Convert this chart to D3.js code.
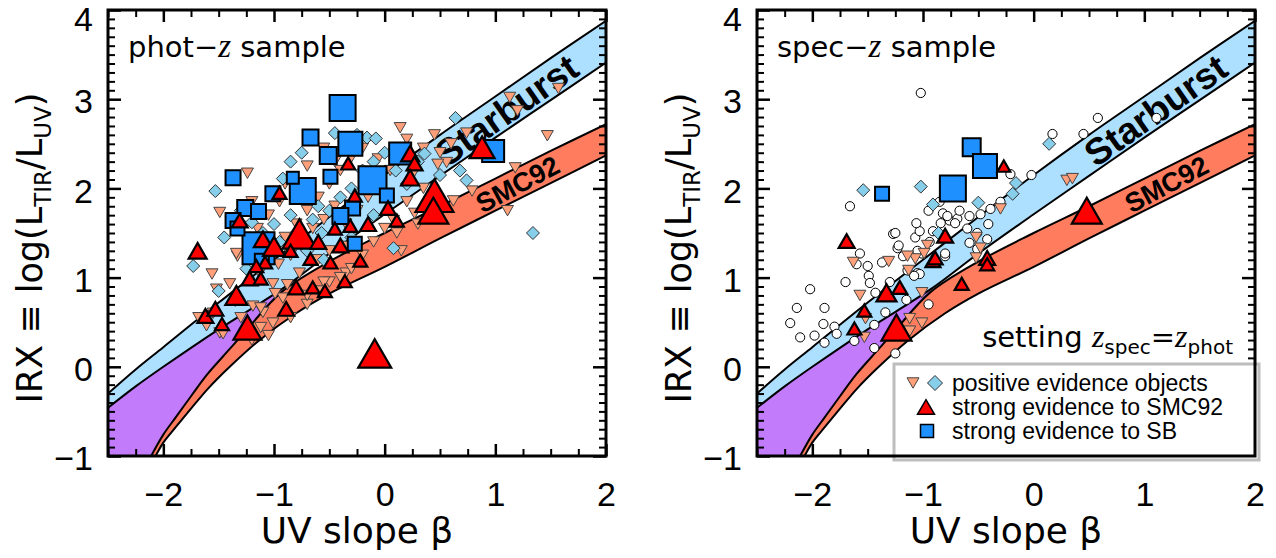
<!DOCTYPE html>
<html>
<head>
<meta charset="utf-8">
<script src="https://cdn.jsdelivr.net/npm/d3@7"></script>
<style>
  body { margin: 0; background: #fff; }
  svg text { font-family: "Liberation Sans", Arial, Helvetica, sans-serif; }
</style>
</head>
<body>
<script>
'use strict';

// axis ticks
const xTicks = [-2, -1, 0, 1, 2];
const yTicks = [-1, 0, 1, 2, 3, 4];

// model bands, [beta, IRX]
const sbUpper = [[-2.5, -0.30], [-2.25, -0.03], [-2.0, 0.22], [-1.5, 0.72], [-1.0, 1.20], [-0.5, 1.68], [0, 2.15], [0.5, 2.60], [1, 3.03], [1.5, 3.46], [2, 3.88]];
const sbLower = [[-2.5, -0.46], [-2.25, -0.22], [-2.0, 0.0], [-1.5, 0.42], [-0.93, 0.87], [-0.5, 1.27], [0, 1.71], [0.5, 2.14], [1, 2.57], [1.5, 2.99], [2, 3.41]];
const smcUpper = [[-2.11, -1.0], [-2.0, -0.76], [-1.89, -0.57], [-1.75, -0.33], [-1.6, -0.08], [-1.4, 0.2], [-1.23, 0.44], [-0.93, 0.84], [-0.5, 1.18], [0, 1.5], [0.5, 1.8], [1, 2.11], [1.5, 2.42], [2, 2.72]];
const smcLower = [[-2.07, -1.0], [-2.0, -0.85], [-1.89, -0.68], [-1.75, -0.47], [-1.6, -0.25], [-1.4, 0.0], [-1.14, 0.29], [-0.8, 0.6], [-0.5, 0.82], [0, 1.12], [0.5, 1.44], [1, 1.75], [1.5, 2.06], [2, 2.37]];

// phot-z sample
const photPosTri = [[1.57, 3.12], [1.47, 2.59], [1.18, 2.23], [1.11, 1.75], [1.13, 3.02], [1.2, 2.87], [0.14, 2.68], [0.62, 1.86], [0.79, 1.97], [-0.06, 2.33], [0.5, 2.4], [0.56, 2.29], [0.48, 2.27], [0.74, 2.62], [0.27, 1.72], [0.08, 1.64], [0.11, 1.5], [0.03, 1.94],
  [-1.24, 2.17], [-1.49, 1.73], [-1.56, 1.04], [-1.33, 1.24], [-1.40, 0.93], [-1.61, 0.46], [-1.49, 0.38], [-1.19, 0.68], [-1.10, 0.61], [-1.01, 0.49], [-0.92, 0.77], [-1.01, 0.93], [-1.13, 1.05], [-1.34, 1.27], [-1.52, 0.87], [-1.12, 0.66], [-1.12, 0.44], [-1.46, 0.37], [-0.96, 1.15], [-0.77, 1.05], [-0.99, 0.82], [-0.88, 0.92],
  [-1.68, 0.55], [-1.55, 0.6], [-1.3, 0.55], [-1.2, 0.3], [-1.05, 0.35], [-0.85, 0.55], [-0.7, 0.7], [-0.6, 0.85], [-0.5, 0.95], [-0.35, 1.05], [-0.2, 1.25], [-0.1, 1.4], [0.0, 1.55], [0.2, 1.85], [0.35, 2.0],
  [-1.0, 1.3], [-0.9, 1.45], [-0.8, 1.6], [-0.7, 1.75], [-0.6, 1.9], [-0.5, 2.05], [-0.4, 2.2], [-0.3, 2.35], [-0.2, 2.45], [-0.85, 1.25], [-0.75, 1.35], [-0.65, 1.55], [-0.55, 1.65], [-0.45, 1.8], [-0.35, 1.6], [-0.25, 1.75], [-0.15, 1.9], [-0.05, 2.05], [0.05, 2.2], [-1.15, 1.55], [-1.05, 1.7], [-0.95, 1.85], [-0.9, 2.05], [-1.2, 1.85], [-0.7, 2.25], [-0.55, 2.45], [-0.45, 2.3], [-0.35, 1.35], [-0.6, 1.2], [-0.5, 1.3], [0.25, 2.15], [0.3, 1.6], [0.4, 1.75], [0.15, 1.3],
  [-0.4, 1.0], [-0.3, 1.1], [-0.7, 0.8], [-0.55, 0.95], [0.35, 2.45], [0.6, 2.5], [0.45, 2.6], [0.2, 2.55]];
const photPosDia = [[-1.53, 1.97], [-1.73, 1.13], [-0.92, 2.11], [-0.75, 2.40], [0.64, 2.79], [-0.45, 2.62], [-0.16, 2.57], [-0.08, 2.56], [1.34, 1.50], [0.08, 1.33], [0.74, 2.09], [0.68, 2.20], [0.36, 2.39], [-0.57, 1.50],
  [-1.3, 1.75], [-1.2, 1.62], [-1.1, 1.5], [-1.0, 1.6], [-0.95, 1.4], [-0.85, 1.7], [-0.8, 1.5], [-0.65, 1.65], [-0.6, 1.8], [-0.5, 1.75], [-0.4, 1.9], [-0.3, 2.0], [-0.2, 2.2], [-0.1, 2.3], [0.0, 2.4], [0.1, 2.2], [0.2, 2.05], [-0.7, 1.3], [-0.55, 1.2], [-1.15, 1.25], [-1.25, 1.1], [-0.3, 1.45], [-0.1, 1.7], [0.3, 2.3], [0.5, 2.15], [-0.85, 2.3], [-0.25, 2.6], [-1.45, 1.45], [-1.5, 0.85], [-1.35, 0.75]];
const photSmcTri = [[0.88, 2.46, 25], [0.23, 2.39, 18], [0.27, 2.28, 16], [0.23, 2.12, 18], [0.45, 1.92, 38], [0.44, 1.75, 30], [0.03, 1.78, 16], [0.11, 1.64, 14], [-0.33, 2.28, 14], [-0.09, 0.15, 33], [-1.69, 1.30, 18], [-0.77, 1.49, 34], [-1.24, 0.44, 28], [-1.62, 0.57, 16], [-1.53, 0.65, 16], [-1.47, 0.48, 14], [-1.34, 0.80, 22], [-1.10, 1.43, 18], [-0.95, 1.95, 14], [-1.31, 1.64, 16], [-1.08, 1.17, 14], [-1.16, 1.13, 14], [-1.22, 0.99, 16], [-1.12, 0.99, 14], [-0.89, 0.65, 16], [-0.80, 0.89, 16], [-0.67, 1.21, 14], [-0.65, 0.89, 14], [-0.49, 1.17, 14], [-0.40, 1.36, 16], [-0.31, 1.58, 14], [-0.36, 0.96, 14], [-0.22, 1.19, 14], [-0.54, 0.85, 14], [-0.27, 1.92, 14], [-0.15, 1.6, 16], [-0.6, 1.4, 16], [-0.85, 1.3, 14], [-1.0, 1.35, 22], [-0.45, 1.55, 14]];
const photSbSq = [[-0.38, 2.90, 26], [-0.31, 2.50, 24], [-0.11, 2.09, 28], [0.14, 2.39, 22], [0.98, 2.42, 22], [-0.67, 2.57, 16], [-0.51, 2.37, 17], [-1.37, 2.12, 15], [-1.26, 1.78, 16], [-1.14, 1.74, 15], [-1.01, 1.94, 15], [-0.74, 1.97, 26], [-1.37, 1.64, 15], [-1.14, 1.33, 32], [-0.83, 2.12, 12], [-0.27, 1.38, 14], [-0.29, 1.78, 15], [-0.40, 1.69, 16], [-1.11, 1.19, 14], [-1.33, 1.55, 14], [-0.49, 2.13, 14], [0.02, 1.92, 14]];

// spec-z sample
const specCircles = [[-1.02, 3.07], [-1.66, 1.80], [-1.27, 1.49], [-1.07, 1.45], [-1.03, 1.52], [-1.06, 1.61], [-1.57, 1.27], [-1.50, 1.13], [-1.37, 1.17], [-1.23, 1.33], [-1.18, 1.24], [-0.82, 1.72], [-0.76, 1.64], [-0.69, 1.66], [-0.84, 1.61], [-0.91, 1.52], [-0.94, 1.40], [-1.01, 1.27], [-1.14, 1.08], [-1.05, 1.05],
  [0.58, 2.79], [0.45, 2.61], [0.17, 2.61], [-0.02, 2.15], [1.11, 2.79], [-0.21, 2.16], [-0.39, 1.77], [-0.48, 1.71], [-0.67, 1.75], [-0.78, 1.69], [-0.71, 1.61], [-0.58, 1.69], [-0.41, 1.60], [-0.51, 1.50], [-0.42, 1.43], [-0.51, 1.32], [-0.80, 1.24],
  [-2.02, 0.87], [-1.89, 0.66], [-1.90, 0.48], [-1.98, 0.35], [-1.80, 0.45], [-1.78, 0.37], [-1.89, 0.27], [-1.62, 0.29], [-1.44, 0.21], [-1.49, 1.02], [-1.60, 1.15], [-1.48, 0.94], [-1.43, 0.83], [-1.34, 0.61], [-1.44, 0.47], [-1.22, 1.36], [-1.25, 1.50], [-1.05, 1.30], [-1.03, 1.04], [-1.08, 1.02], [-0.80, 1.27], [-0.58, 1.39],
  [-2.14, 0.66], [-2.20, 0.49], [-2.11, 0.33], [-1.70, 0.95], [-1.30, 0.95], [-1.15, 0.75], [-0.95, 0.70], [-1.25, 0.15], [-0.60, 1.55], [-0.30, 1.85], [-0.85, 1.85], [-0.95, 1.75]];
const specPosTri = [[-1.63, 1.17], [-1.31, 1.18], [-1.07, 1.21], [-0.96, 1.36], [0.30, 2.09], [0.35, 2.11], [-0.30, 1.77], [-0.52, 1.45], [-0.52, 1.22], [-1.14, 1.24], [-0.99, 1.27], [-1.57, 0.80], [-1.52, 0.54], [-1.12, 0.54], [-1.01, 0.49], [-1.12, 0.40], [-1.53, 0.33], [-1.13, 1.08], [-1.01, 0.83], [-0.48, 1.33]];
const specPosDia = [[-1.54, 1.98], [-1.02, 2.02], [-0.91, 1.82], [0.14, 2.50], [-0.16, 2.06], [-0.19, 1.94], [-0.50, 1.84], [-0.86, 1.50]];
const specSmcTri = [[-1.69, 1.41, 16], [-0.80, 1.47, 16], [-0.91, 1.19, 15], [-0.27, 2.25, 13], [0.48, 1.75, 30], [-1.33, 0.83, 20], [-1.21, 0.89, 15], [-1.53, 0.63, 14], [-1.62, 0.43, 14], [-1.24, 0.44, 30], [-0.89, 1.22, 15], [-0.65, 0.93, 14], [-0.42, 1.22, 16], [-0.42, 1.15, 14]];
const specSbSq = [[-1.37, 1.94, 14], [-0.73, 2.0, 26], [-0.56, 2.46, 18], [-0.44, 2.25, 24]];

const legendLabels = ["positive evidence objects", "strong evidence to SMC92", "strong evidence to SB"];

const colors = {
  sb: "#ADDFFF", smc: "#FF7D5E", both: "#C27BFB",
  posTri: "#FFA07A", posDia: "#87CEEB", smcTri: "#FF0000", sbSq: "#1E90FF"
};

const wideFont = "'DejaVu Sans', Verdana, sans-serif";
const zFont = "'Liberation Serif', 'DejaVu Serif', serif";

(function () {
  const svg = d3.select("body").append("svg")
    .attr("width", 1276)
    .attr("height", 558);

  const panels = [
    { left: 108, name: "phot", clip: "clipA", posTri: photPosTri, posDia: photPosDia, smcTri: photSmcTri, sbSq: photSbSq, circles: [] },
    { left: 757, name: "spec", clip: "clipB", posTri: specPosTri, posDia: specPosDia, smcTri: specSmcTri, sbSq: specSbSq, circles: specCircles }
  ];

  panels.forEach(drawPanel);
  drawLegend();

  // marker outline shapes centred on 0,0
  function markerPath(type, s) {
    const h = s * 0.433;
    if (type === "tri") return `M${-s / 2},${h}L${s / 2},${h}L0,${-h}Z`;
    if (type === "dtri") return `M${-s / 2},${-h}L${s / 2},${-h}L0,${h}Z`;
    if (type === "dia") return `M0,${-s / 2}L${s / 2},0L0,${s / 2}L${-s / 2},0Z`;
    return `M${-s / 2},${-s / 2}H${s / 2}V${s / 2}H${-s / 2}Z`;
  }

  function drawPanel(p) {
    const x = d3.scaleLinear().domain([-2.5, 2]).range([p.left, p.left + 498]);
    const y = d3.scaleLinear().domain([-1, 4]).range([456, 10]);

    svg.append("clipPath").attr("id", p.clip)
      .append("rect")
      .attr("x", x(-2.5)).attr("y", y(4))
      .attr("width", x(2) - x(-2.5)).attr("height", y(-1) - y(4));

    const plot = svg.append("g").attr("clip-path", `url(#${p.clip})`);

    const line = d3.line()
      .x(d => x(d[0]))
      .y(d => y(d[1]))
      .curve(d3.curveCatmullRom.alpha(0.5));

    const band = (upper, lower) =>
      line(upper) + line(lower.slice().reverse()).replace(/^M/, "L") + "Z";

    // purple region between starburst lower edge and SMC upper edge
    const cut = -0.93;
    const sbL = sbLower.filter(d => d[0] <= cut);
    const smU = smcUpper.filter(d => d[0] <= cut);
    plot.append("path")
      .attr("d", line(sbL) + line(smU.slice().reverse()).replace(/^M/, "L") +
        `L${x(-2.5)},${y(-1)}Z`)
      .attr("fill", colors.both);

    plot.append("path").attr("d", band(sbUpper, sbLower)).attr("fill", colors.sb);
    plot.append("path").attr("d", band(smcUpper, smcLower)).attr("fill", colors.smc);

    [sbUpper, sbLower, smcUpper, smcLower].forEach(c => {
      plot.append("path")
        .attr("d", line(c))
        .attr("fill", "none")
        .attr("stroke", "#000")
        .attr("stroke-width", 2);
    });

    // band names
    plot.append("text")
      .attr("transform", `translate(${x(1.1)},${y(2.88)}) rotate(-35)`)
      .attr("text-anchor", "middle")
      .attr("dy", "0.36em")
      .style("font-size", "37px")
      .style("font-weight", "bold")
      .text("Starburst");
    plot.append("text")
      .attr("transform", `translate(${x(1.2)},${y(2.05)}) rotate(-28)`)
      .attr("text-anchor", "middle")
      .attr("dy", "0.36em")
      .style("font-size", "27px")
      .style("font-weight", "bold")
      .text("SMC92");

    // data points
    plot.selectAll(".circ").data(p.circles).enter()
      .append("circle")
      .attr("cx", d => x(d[0])).attr("cy", d => y(d[1]))
      .attr("r", 4.6)
      .attr("fill", "#fff").attr("stroke", "#000").attr("stroke-width", 1);

    plot.selectAll(".ptri").data(p.posTri).enter()
      .append("path")
      .attr("transform", d => `translate(${x(d[0])},${y(d[1])})`)
      .attr("d", markerPath("dtri", 12))
      .attr("fill", colors.posTri).attr("stroke", "#444").attr("stroke-width", 1);

    plot.selectAll(".pdia").data(p.posDia).enter()
      .append("path")
      .attr("transform", d => `translate(${x(d[0])},${y(d[1])})`)
      .attr("d", markerPath("dia", 13))
      .attr("fill", colors.posDia).attr("stroke", "#333").attr("stroke-width", 1);

    plot.selectAll(".sq").data(p.sbSq).enter()
      .append("path")
      .attr("transform", d => `translate(${x(d[0])},${y(d[1])})`)
      .attr("d", d => markerPath("sq", d[2]))
      .attr("fill", colors.sbSq).attr("stroke", "#000").attr("stroke-width", 2);

    plot.selectAll(".stri").data(p.smcTri).enter()
      .append("path")
      .attr("transform", d => `translate(${x(d[0])},${y(d[1])})`)
      .attr("d", d => markerPath("tri", d[2]))
      .attr("fill", colors.smcTri).attr("stroke", "#000").attr("stroke-width", 2.2);

    // axes with inward ticks on all four sides
    const xMinor = d3.range(-2.5, 2.001, 0.25).filter(v => Math.abs(v - Math.round(v)) > 1e-6);
    const yMinor = d3.range(-1, 4.001, 0.1).filter(v => Math.abs(v - Math.round(v)) > 1e-6);

    const addAxis = (axis, tr, w, labels) => {
      const g = svg.append("g").attr("transform", tr).call(axis);
      g.select(".domain").remove();
      g.selectAll(".tick line").attr("stroke-width", w);
      g.attr("font-size", 34).attr("font-family", null);
      if (!labels) g.selectAll("text").remove();
      return g;
    };

    addAxis(d3.axisBottom(x).tickValues(xTicks).tickSize(-12).tickPadding(26).tickFormat(d3.format("d")), `translate(0,${y(-1)})`, 2.5, true);
    addAxis(d3.axisBottom(x).tickValues(xMinor).tickSize(-7), `translate(0,${y(-1)})`, 2, false);
    addAxis(d3.axisTop(x).tickValues(xTicks).tickSize(-12), `translate(0,${y(4)})`, 2.5, false);
    addAxis(d3.axisTop(x).tickValues(xMinor).tickSize(-7), `translate(0,${y(4)})`, 2, false);
    addAxis(d3.axisLeft(y).tickValues(yTicks).tickSize(-13).tickPadding(15).tickFormat(d3.format("d")), `translate(${x(-2.5)},0)`, 2.5, true)
      .selectAll("text").attr("dy", d => d === 4 ? "0.6em" : "0.4em");
    addAxis(d3.axisLeft(y).tickValues(yMinor).tickSize(-7), `translate(${x(-2.5)},0)`, 2, false);
    addAxis(d3.axisRight(y).tickValues(yTicks).tickSize(-13), `translate(${x(2)},0)`, 2.5, false);
    addAxis(d3.axisRight(y).tickValues(yMinor).tickSize(-7), `translate(${x(2)},0)`, 2, false);

    // legend box sits under the frame in the spec panel
    if (p.name === "spec") {
      svg.append("rect")
        .attr("x", 894).attr("y", 364)
        .attr("width", x(2) - 894 + 4).attr("height", y(-1) - 364 + 4)
        .attr("fill", "#fff").attr("stroke", "#BDBDBD").attr("stroke-width", 3);
    }

    svg.append("rect")
      .attr("x", x(-2.5)).attr("y", y(4))
      .attr("width", x(2) - x(-2.5)).attr("height", y(-1) - y(4))
      .attr("fill", "none").attr("stroke", "#000").attr("stroke-width", 3);

    // axis titles
    svg.append("text")
      .attr("x", (x(-2.5) + x(2)) / 2).attr("y", 543)
      .attr("text-anchor", "middle")
      .style("font-family", wideFont)
      .style("font-size", "36px")
      .text("UV slope β");

    const yt = svg.append("text")
      .attr("transform", `translate(${x(-2.5) - 66},248) rotate(-90)`)
      .attr("text-anchor", "middle")
      .style("font-family", wideFont)
      .style("font-size", "35px");
    yt.append("tspan").text("IRX ≡ log(L");
    yt.append("tspan").attr("dy", 9).style("font-size", "23px").text("TIR");
    yt.append("tspan").attr("dy", -9).text("/L");
    yt.append("tspan").attr("dy", 9).style("font-size", "23px").text("UV");
    yt.append("tspan").attr("dy", -9).text(")");

    // panel label
    const pl = svg.append("text")
      .attr("x", x(-2.5) + 20).attr("y", 57)
      .style("font-family", wideFont)
      .style("font-size", "29px");
    pl.append("tspan").text(p.name + "−");
    pl.append("tspan")
      .style("font-family", zFont)
      .style("font-style", "italic")
      .style("font-size", "33px")
      .text("z");
    pl.append("tspan").text(" sample");
  }

  function drawLegend() {
    const g = svg.append("g");
    g.append("path").attr("transform", "translate(913,383)").attr("d", markerPath("dtri", 12))
      .attr("fill", colors.posTri).attr("stroke", "#444").attr("stroke-width", 1);
    g.append("path").attr("transform", "translate(935,383)").attr("d", markerPath("dia", 15))
      .attr("fill", colors.posDia).attr("stroke", "#333").attr("stroke-width", 1);
    g.append("path").attr("transform", "translate(926,407)").attr("d", markerPath("tri", 17))
      .attr("fill", colors.smcTri).attr("stroke", "#000").attr("stroke-width", 1.5);
    g.append("path").attr("transform", "translate(927,431)").attr("d", markerPath("sq", 13))
      .attr("fill", colors.sbSq).attr("stroke", "#000").attr("stroke-width", 1.5);

    g.selectAll(".lt").data(legendLabels).enter()
      .append("text")
      .attr("x", 952)
      .attr("y", (d, i) => 383 + i * 24)
      .attr("dy", "0.35em")
      .style("font-size", "23px")
      .text(d => d);

    // note about redshifts
    const t = svg.append("text")
      .attr("x", 1233).attr("y", 347)
      .attr("text-anchor", "end")
      .style("font-family", wideFont)
      .style("font-size", "29px");
    const zStyle = s => s.style("font-family", zFont)
      .style("font-style", "italic").style("font-size", "32px");
    t.append("tspan").text("setting ");
    t.append("tspan").call(zStyle).text("z");
    t.append("tspan").attr("dy", 7).style("font-size", "20px").text("spec");
    t.append("tspan").attr("dy", -7).text("=");
    t.append("tspan").call(zStyle).text("z");
    t.append("tspan").attr("dy", 7).style("font-size", "20px").text("phot");
  }
})();
</script>
</body>
</html>
